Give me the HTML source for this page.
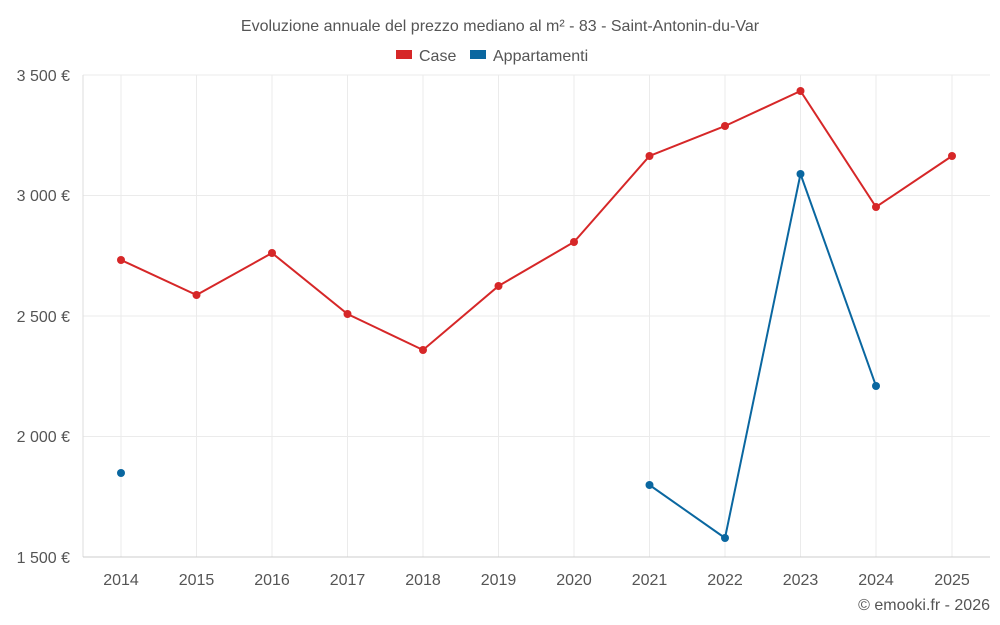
<!DOCTYPE html>
<html><head><meta charset="utf-8"><style>
html,body{margin:0;padding:0;background:#fff;}
svg{display:block;font-family:"Liberation Sans",sans-serif;}
</style></head><body>
<svg width="1000" height="625" viewBox="0 0 1000 625">
<text x="500" y="31" text-anchor="middle" font-size="16" fill="#555">Evoluzione annuale del prezzo mediano al m² - 83 - Saint-Antonin-du-Var</text>
<rect x="396" y="50" width="16" height="9" fill="#d62728"/>
<text x="419" y="61" font-size="16" fill="#555">Case</text>
<rect x="470" y="50" width="16" height="9" fill="#0a67a0"/>
<text x="493" y="61" font-size="16" fill="#555">Appartamenti</text>
<g stroke="#ebebeb" stroke-width="1">
<line x1="83" x2="990" y1="75" y2="75"/><line x1="83" x2="990" y1="195.5" y2="195.5"/>
<line x1="83" x2="990" y1="316" y2="316"/><line x1="83" x2="990" y1="436.5" y2="436.5"/>
<line x1="121" x2="121" y1="75" y2="557"/><line x1="196.5" x2="196.5" y1="75" y2="557"/>
<line x1="272" x2="272" y1="75" y2="557"/><line x1="347.5" x2="347.5" y1="75" y2="557"/>
<line x1="423" x2="423" y1="75" y2="557"/><line x1="498.5" x2="498.5" y1="75" y2="557"/>
<line x1="574" x2="574" y1="75" y2="557"/><line x1="649.5" x2="649.5" y1="75" y2="557"/>
<line x1="725" x2="725" y1="75" y2="557"/><line x1="800.5" x2="800.5" y1="75" y2="557"/>
<line x1="876" x2="876" y1="75" y2="557"/><line x1="952" x2="952" y1="75" y2="557"/>
</g>
<line x1="83" x2="83" y1="75" y2="557" stroke="#ddd"/>
<line x1="83" x2="990" y1="557" y2="557" stroke="#ccc"/>
<g font-size="16" fill="#555" text-anchor="end">
<text x="70" y="81">3 500 €</text><text x="70" y="201">3 000 €</text>
<text x="70" y="322">2 500 €</text><text x="70" y="442">2 000 €</text>
<text x="70" y="563">1 500 €</text>
</g>
<g font-size="16" fill="#555" text-anchor="middle">
<text x="121" y="585">2014</text><text x="196.5" y="585">2015</text><text x="272" y="585">2016</text>
<text x="347.5" y="585">2017</text><text x="423" y="585">2018</text><text x="498.5" y="585">2019</text>
<text x="574" y="585">2020</text><text x="649.5" y="585">2021</text><text x="725" y="585">2022</text>
<text x="800.5" y="585">2023</text><text x="876" y="585">2024</text><text x="952" y="585">2025</text>
</g>
<text x="990" y="610" text-anchor="end" font-size="16" fill="#555">© emooki.fr - 2026</text>
<polyline fill="none" stroke="#d62728" stroke-width="2" points="121,260 196.5,295 272,253 347.5,314 423,350 498.5,286 574,242 649.5,156 725,126 800.5,91 876,207 952,156"/>
<g fill="#d62728">
<circle cx="121" cy="260" r="4"/><circle cx="196.5" cy="295" r="4"/><circle cx="272" cy="253" r="4"/>
<circle cx="347.5" cy="314" r="4"/><circle cx="423" cy="350" r="4"/><circle cx="498.5" cy="286" r="4"/>
<circle cx="574" cy="242" r="4"/><circle cx="649.5" cy="156" r="4"/><circle cx="725" cy="126" r="4"/>
<circle cx="800.5" cy="91" r="4"/><circle cx="876" cy="207" r="4"/><circle cx="952" cy="156" r="4"/>
</g>
<polyline fill="none" stroke="#0a67a0" stroke-width="2" points="649.5,485 725,538 800.5,174 876,386"/>
<g fill="#0a67a0">
<circle cx="121" cy="473" r="4"/><circle cx="649.5" cy="485" r="4"/><circle cx="725" cy="538" r="4"/>
<circle cx="800.5" cy="174" r="4"/><circle cx="876" cy="386" r="4"/>
</g>
</svg>
</body></html>
